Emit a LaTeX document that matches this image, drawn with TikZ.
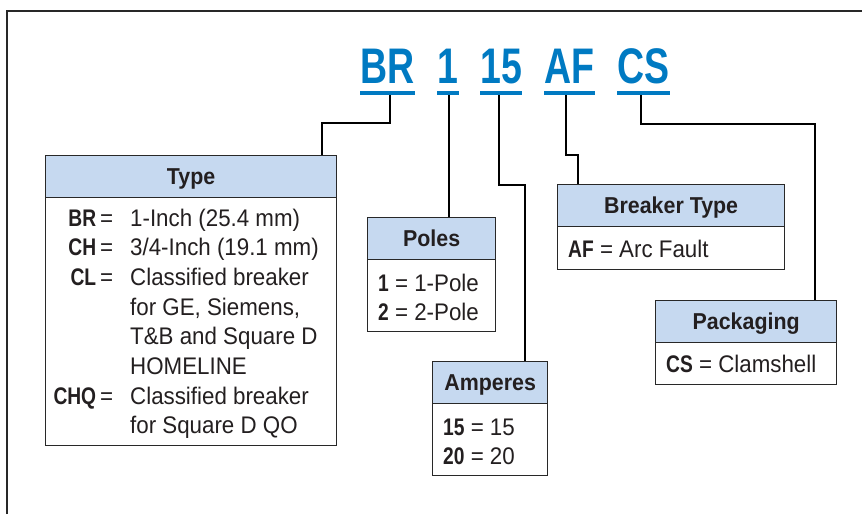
\documentclass[tikz,border=0pt]{standalone}
\usepackage{fontspec}
\setmainfont{Liberation Sans}[FakeStretch=0.93]
\newfontfamily\codefont{Liberation Sans}[FakeStretch=0.75]
\newfontfamily\cdfont{Liberation Sans}[FakeStretch=0.8]
\usetikzlibrary{calc}
\definecolor{codeblue}{RGB}{0,122,194}
\definecolor{headfill}{RGB}{198,217,240}
\definecolor{ink}{RGB}{35,31,32}
\definecolor{framec}{RGB}{40,40,40}
\newcommand{\kb}[1]{{\cdfont\bfseries #1}}
\newcommand{\cd}[1]{\makebox[63pt][r]{\kb{#1}\hspace{4pt}=}}
\begin{document}
\begin{tikzpicture}[x=1pt,y=-1pt,
  head/.style={draw=framec, line width=1.3pt, fill=headfill, inner sep=0pt,
    minimum height=42pt, anchor=north west, text=ink,
    font=\fontsize{23}{28}\selectfont\bfseries, text height=18pt, text depth=2pt},
  bodybox/.style={draw=framec, line width=1.3pt, fill=white, inner sep=0pt, anchor=north west},
  bodytext/.style={anchor=base west, inner sep=0pt, text=ink, font=\fontsize{24}{29.7}\selectfont},
  code/.style={anchor=base, inner sep=0pt, text=codeblue, font=\codefont\bfseries\fontsize{50}{60}\selectfont},
  uline/.style={draw=codeblue, line width=4pt},
  conn/.style={draw=black, line width=1.2pt}]
\useasboundingbox (0,0) rectangle (862,514);
\fill[white] (0,0) rectangle (862,514);
% frame
\draw[line width=1.3pt, framec] (7,514) -- (7,11) -- (862,11);

% code letters
\node[code] (cBR) at (387.5,83) {BR};
\node[code] (c1)  at (448,83) {1};
\node[code] (c15) at (501,83) {15};
\node[code] (cAF) at (569.5,83) {AF};
\node[code] (cCS) at (643.5,83) {CS};
\draw[uline] (360,93) -- (415,93);
\draw[uline] (437,93) -- (459,93);
\draw[uline] (480,93) -- (522,93);
\draw[uline] (544,93) -- (595,93);
\draw[uline] (617,93) -- (670,93);
\coordinate (uBR) at (390,95);
\coordinate (u1)  at (449,95);
\coordinate (u15) at (499,95);
\coordinate (uAF) at (566,95);
\coordinate (uCS) at (641,95);

% Type box
\node[bodybox, minimum width=291pt, minimum height=248pt] (typebody) at (45,197) {};
\node[head, minimum width=291pt] (typehead) at (45,155) {Type};
\node[bodytext] (typetext) at (50,226) {\begin{tabular}[t]{@{}l@{\hspace{17pt}}l@{}}
\cd{BR} & 1-Inch (25.4 mm)\\
\cd{CH} & 3/4-Inch (19.1 mm)\\
\cd{CL} & Classified breaker\\
 & for GE, Siemens,\\
 & T\&B and Square D\\
 & HOMELINE\\
\cd{CHQ} & Classified breaker\\
 & for Square D QO
\end{tabular}};

% Poles box
\node[bodybox, minimum width=128pt, minimum height=72pt] (polebody) at (367,259) {};
\node[head, minimum width=128pt] (polehead) at (367,217) {Poles};
\node[bodytext] (poletext) at (378,291) {\begin{tabular}[t]{@{}l@{}}
\kb{1} = 1-Pole\\
\kb{2} = 2-Pole
\end{tabular}};

% Amperes box
\node[bodybox, minimum width=115pt, minimum height=72pt] (ampbody) at (432,403) {};
\node[head, minimum width=115pt] (amphead) at (432,361) {Amperes};
\node[bodytext] (amptext) at (443,435) {\begin{tabular}[t]{@{}l@{}}
\kb{15} = 15\\
\kb{20} = 20
\end{tabular}};

% Breaker Type box
\node[bodybox, minimum width=227pt, minimum height=43pt] (brkbody) at (557,226) {};
\node[head, minimum width=227pt] (brkhead) at (557,184) {Breaker Type};
\node[bodytext] (brktext) at (568,257) {\kb{AF} = Arc Fault};

% Packaging box
\node[bodybox, minimum width=181pt, minimum height=42pt] (pkgbody) at (655,342) {};
\node[head, minimum width=181pt] (pkghead) at (655,300) {Packaging};
\node[bodytext] (pkgtext) at (666,372) {\kb{CS} = Clamshell};

% connector end points on the boxes
\coordinate (tT) at ($(typehead.north west)+(277,0)$);
\coordinate (tP) at ($(polehead.north west)+(82,0)$);
\coordinate (tA) at ($(amphead.north west)+(93,0)$);
\coordinate (tB) at ($(brkhead.north west)+(21,0)$);
\coordinate (tK) at ($(pkghead.north west)+(160,0)$);

% connectors
\draw[conn] (uBR) |- ($(tT)+(0,-32)$) -- (tT);
\draw[conn] (u1) -- (tP);
\draw[conn] (u15) |- ($(tA)+(0,-176)$) -- (tA);
\draw[conn] (uAF) |- ($(tB)+(0,-29)$) -- (tB);
\draw[conn] (uCS) |- ($(tK)+(0,-176)$) -- (tK);
\end{tikzpicture}
\end{document}
